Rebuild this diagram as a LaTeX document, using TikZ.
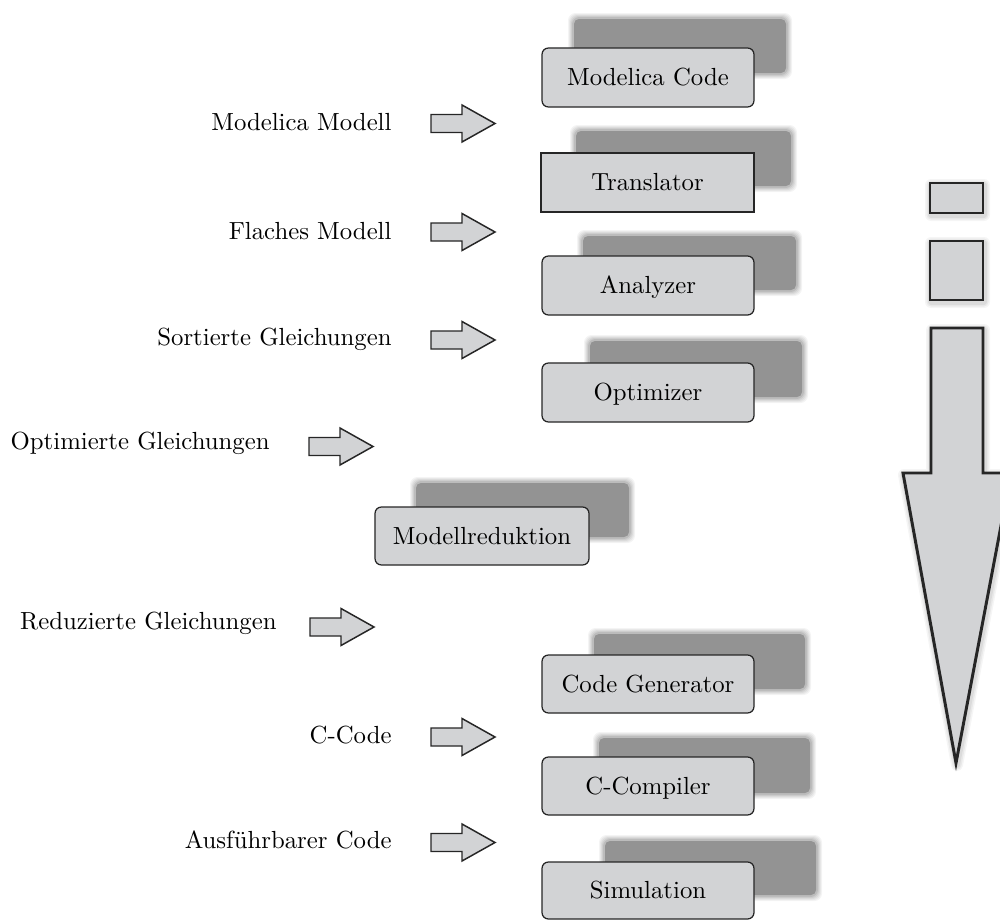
\documentclass[tikz,border=0pt]{standalone}

\definecolor{platecol}{HTML}{939393}
\definecolor{boxfill}{HTML}{D2D3D5}
\definecolor{edge}{HTML}{262626}

% soft, blurred plate behind a stage box
\newcommand\softplate[2]{%
  \foreach \e/\o in {5/0.10,4/0.12,3/0.15,2/0.2,1/0.3}{%
    \fill[platecol,opacity=\o,rounded corners=3pt]
      ([shift={(-\e,-\e)}]#1) rectangle ([shift={(\e,\e)}]#2);}
  \fill[platecol,rounded corners=2pt]
    ([shift={(1,1)}]#1) rectangle ([shift={(-1,-1)}]#2);}

\tikzset{
  stagebox/.style={draw=edge,fill=boxfill,line width=0.5pt,rounded corners=2.6pt,
    inner sep=0pt,text height=6.83pt,text depth=0pt,
    minimum width=85.65pt,minimum height=23.84pt},
  lbl/.style={inner sep=0pt,text height=6.83pt,text depth=0pt,anchor=east},
  arrowbody/.style={draw=edge,fill=boxfill,line width=0.6pt,line join=miter},
  blockarrow/.pic={\draw[arrowbody] (0,-9) -- (31,-9) -- (31,-18.5) -- (64,0)
      -- (31,18.5) -- (31,9) -- (0,9) -- cycle;},
  flowpart/.style={draw=edge,fill=boxfill,line width=1.2pt,line join=miter},
  glow/.style={draw=black,line join=round,shift={(1,2)}}
}

\begin{document}
\begin{tikzpicture}[x=0.404pt,y=-0.404pt]
\useasboundingbox (0,0) rectangle (1000,921);

% plates
\softplate{573,18}{787,74}
\softplate{575,130}{792,187}
\softplate{582,235}{797,291}
\softplate{589,340}{803,398}
\softplate{415,482}{630,538}
\softplate{593,633}{806,690}
\softplate{598,737}{811,794}
\softplate{604,840}{817,896}

% stage boxes
\node[stagebox] (code) at (648,77.5) {Modelica Code};
\node[stagebox,sharp corners,minimum width=86.05pt] (trans) at (647.5,182.5) {Translator};
\node[stagebox] (anal) at (648,285.5) {Analyzer};
\node[stagebox] (opt) at (648,392.5) {Optimizer};
\node[stagebox,minimum width=86.46pt,minimum height=23.43pt] (red) at (482,536) {Modellreduktion};
\node[stagebox,minimum height=23.43pt] (gen) at (648,684) {Code Generator};
\node[stagebox,minimum height=23.43pt] (comp) at (648,786) {C-Compiler};
\node[stagebox,minimum height=23.03pt] (sim) at (648,890.5) {Simulation};

% intermediate products
\node[lbl] (l1) at (392,122) {Modelica Modell};
\node[lbl] (l2) at (392,231) {Flaches Modell};
\node[lbl] (l3) at (392,337) {Sortierte Gleichungen};
\node[lbl] (l4) at (270,441) {Optimierte Gleichungen};
\node[lbl] (l5) at (277,621) {Reduzierte Gleichungen};
\node[lbl] (l6) at (392,735) {C-Code};
\node[lbl] (l7) at (392,840) {Ausführbarer Code};

\pic at (431,123.5) {blockarrow};
\pic at (431,232) {blockarrow};
\pic at (431,340) {blockarrow};
\pic at (309,446.5) {blockarrow};
\pic at (310,627) {blockarrow};
\pic at (431,737) {blockarrow};
\pic at (431,842.5) {blockarrow};

% overall flow direction
\foreach \w/\o in {12/0.04,9/0.05,6/0.06}{
  \draw[glow,line width=\w*0.404pt,opacity=\o]
    (930,183) rectangle (983,213)
    (930,241) rectangle (983,300)
    (931,328) -- (983,328) -- (983,473) -- (1011,473) -- (956,763)
    -- (903,473) -- (931,473) -- cycle;}
\draw[flowpart] (930,183) rectangle (983,213);
\draw[flowpart] (930,241) rectangle (983,300);
\draw[flowpart] (931,328) -- (983,328) -- (983,473) -- (1011,473) -- (956,763)
  -- (903,473) -- (931,473) -- cycle;
\end{tikzpicture}
\end{document}
